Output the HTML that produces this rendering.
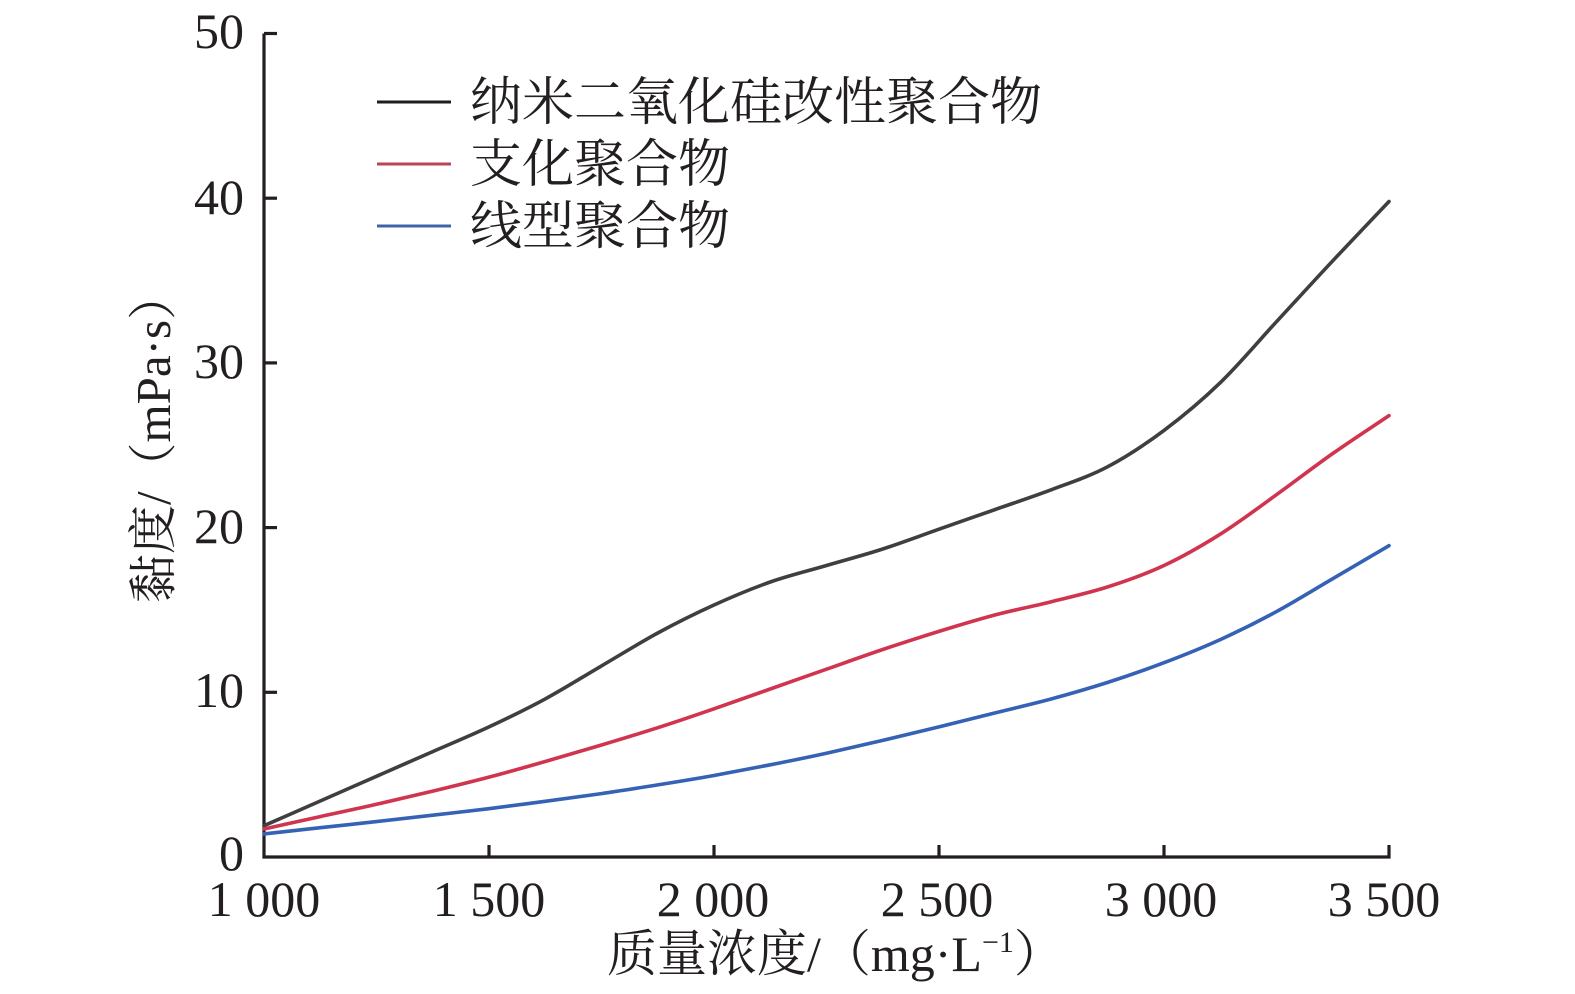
<!DOCTYPE html>
<html><head><meta charset="utf-8"><style>
html,body{margin:0;padding:0;background:#fff;}
svg{display:block;}
.num{font-family:"Liberation Serif","Noto Serif CJK SC",serif;font-size:50px;fill:#231f20;}
.cjk{font-family:"Liberation Serif","Noto Serif CJK SC","Noto Sans CJK SC",serif;fill:#231f20;}
</style></head><body>
<svg width="1575" height="994" viewBox="0 0 1575 994" xmlns="http://www.w3.org/2000/svg">
<rect width="1575" height="994" fill="#fff"/>
<!-- axes -->
<path d="M264,33.5 V857 H1389 V845" fill="none" stroke="#231f20" stroke-width="3.2"/>
<g stroke="#231f20" stroke-width="3.2">
<line x1="264" y1="33.5" x2="277" y2="33.5"/>
<line x1="264" y1="198.2" x2="277" y2="198.2"/>
<line x1="264" y1="362.9" x2="277" y2="362.9"/>
<line x1="264" y1="527.6" x2="277" y2="527.6"/>
<line x1="264" y1="692.3" x2="277" y2="692.3"/>
<line x1="489" y1="857" x2="489" y2="845"/>
<line x1="714" y1="857" x2="714" y2="845"/>
<line x1="939" y1="857" x2="939" y2="845"/>
<line x1="1164" y1="857" x2="1164" y2="845"/>
</g>
<!-- y tick labels -->
<g class="num" text-anchor="end">
<text x="244" y="48">50</text>
<text x="244" y="214">40</text>
<text x="244" y="378">30</text>
<text x="244" y="543">20</text>
<text x="244" y="707">10</text>
<text x="244" y="870">0</text>
</g>
<!-- x tick labels -->
<g class="num" text-anchor="middle">
<text x="264" y="916">1 000</text>
<text x="489" y="916">1 500</text>
<text x="713" y="916">2 000</text>
<text x="937" y="916">2 500</text>
<text x="1161" y="916">3 000</text>
<text x="1384" y="916">3 500</text>
</g>
<!-- axis titles -->
<text class="cjk" x="607" y="971" font-size="50">质量浓度/（mg·L<tspan font-size="30" dy="-19">−1</tspan><tspan dy="19">）</tspan></text>
<text class="cjk" transform="translate(170,437) rotate(-90)" font-size="49" text-anchor="middle">黏度/（mPa·s）</text>
<!-- legend -->
<line x1="377" y1="102" x2="451" y2="102" stroke="#1e1e1e" stroke-width="3"/>
<line x1="377" y1="164" x2="451" y2="164" stroke="#b8455a" stroke-width="3"/>
<line x1="377" y1="226" x2="451" y2="226" stroke="#3d64a8" stroke-width="3"/>
<g class="cjk" font-size="52">
<text x="470" y="120">纳米二氧化硅改性聚合物</text>
<text x="470" y="182">支化聚合物</text>
<text x="470" y="244">线型聚合物</text>
</g>
<!-- series -->
<g fill="none" stroke-width="3.6" stroke-linejoin="round" stroke-linecap="round">
<path stroke="#3f3f42" d="M264,825.7 C282.75,817.5 301.5,809.2 320.25,801 S357.75,784.5 376.5,776.3 S414,759.8 432.75,751.6 S470.25,735.7 489,726.9 S526.5,709.1 545.25,698.9 S582.75,676.9 601.5,665.9 S639,643.2 657.75,633 S695.25,613.5 714,605 S751.5,588.6 770.25,582 S807.75,571 826.5,565.5 S864,555.1 882.75,549 S920.25,535.8 939,529.2 S976.5,516.1 995.25,509.5 S1032.75,496.8 1051.5,489.7 S1089,476.6 1107.75,466.7 S1145.25,444.4 1164,430.4 S1201.5,400.8 1220.25,382.7 S1257.75,342 1276.5,321.7 S1314,280.8 1332.75,260.8 S1370.25,221.3 1389,201.5"/>
<path stroke="#d0344f" d="M264,829 C282.75,824.9 301.5,820.7 320.25,816.6 S357.75,808.6 376.5,804.3 S414,795.6 432.75,791.1 S470.25,782 489,777.1 S526.5,766.9 545.25,761.5 S582.75,750.6 601.5,745 S639,733.7 657.75,727.7 S695.25,715.3 714,708.8 S751.5,695.6 770.25,689 S807.75,675.8 826.5,669.2 S864,655.8 882.75,649.5 S920.25,637.2 939,631.4 S976.5,619.9 995.25,614.9 S1032.75,606.4 1051.5,601.7 S1089,592.9 1107.75,586.9 S1145.25,574.3 1164,565.5 S1201.5,546 1220.25,534.2 S1257.75,508.2 1276.5,494.7 S1314,466.7 1332.75,453.5 S1370.25,428.2 1389,415.6"/>
<path stroke="#3662b6" d="M264,833.9 C282.75,831.8 301.5,829.8 320.25,827.7 S357.75,823.7 376.5,821.6 S414,817.4 432.75,815.2 S470.25,811 489,808.7 S526.5,803.8 545.25,801.3 S582.75,796.3 601.5,793.6 S639,787.9 657.75,784.9 S695.25,778.9 714,775.5 S751.5,768.5 770.25,764.8 S807.75,757.3 826.5,753.2 S864,744.8 882.75,740.4 S920.25,731.5 939,726.9 S976.5,717.6 995.25,712.9 S1032.75,704 1051.5,698.9 S1089,688.4 1107.75,682.4 S1145.25,669.8 1164,662.7 S1201.5,648.1 1220.25,639.6 S1257.75,621.8 1276.5,611.6 S1314,589.7 1332.75,578.7 S1370.25,556.7 1389,545.7"/>
</g>
</svg>
</body></html>
